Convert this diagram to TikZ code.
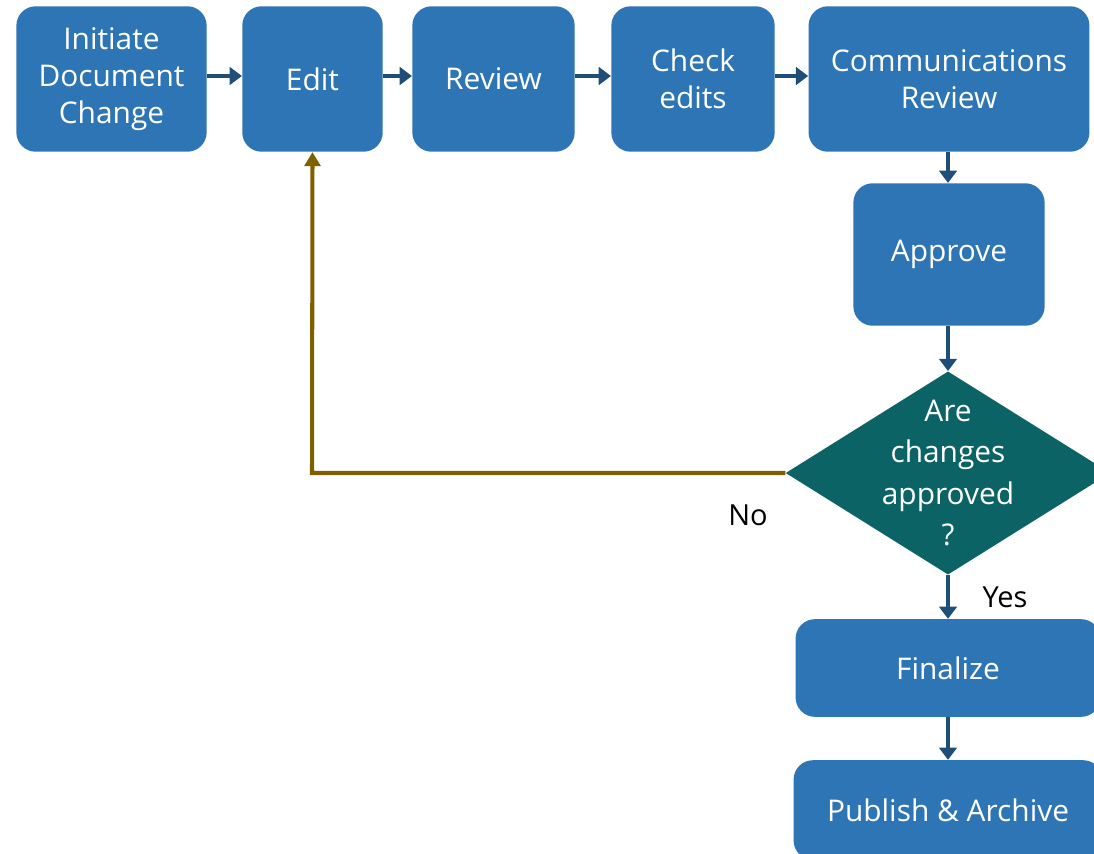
\documentclass[tikz,border=0pt]{standalone}
\usepackage{fontspec}
\setmainfont{Open Sans}
\usetikzlibrary{shapes.geometric,arrows.meta}
\definecolor{boxblue}{RGB}{46,117,182}
\definecolor{teal2}{RGB}{11,99,101}
\definecolor{arrowblue}{RGB}{31,78,121}
\definecolor{olive2}{RGB}{127,96,0}
\tikzset{
  stepbox/.style={rectangle, rounded corners=11pt, fill=boxblue, text=white, align=center,
    font=\fontsize{17}{21}\selectfont, inner sep=0pt, minimum height=146*0.567pt},
  flow/.style={draw=arrowblue, line width=2.8pt, -{Triangle[length=7pt,width=10pt]}},
  back/.style={draw=olive2, line width=2.3pt, -{Triangle[length=8pt,width=9pt]}},
  lbl/.style={font=\fontsize{16.5}{21}\selectfont, text=black, inner sep=0pt}
}
\begin{document}
\begin{tikzpicture}[x=0.02cm,y=-0.02cm]
\useasboundingbox (0,0) rectangle (1094,853);
\clip (0,0) rectangle (1094,853);
\node[stepbox, minimum width=191*0.567pt] (init) at (111.5,79) {Initiate\\Document\\Change};
\node[stepbox, minimum width=141*0.567pt] (edit) at (312.5,79) {Edit};
\node[stepbox, minimum width=163*0.567pt] (review) at (493.5,79) {Review};
\node[stepbox, minimum width=164*0.567pt] (check) at (693,79) {Check\\edits};
\node[stepbox, minimum width=282*0.567pt] (comm) at (949,79) {Communications\\Review};
\node[stepbox, minimum width=192*0.567pt, minimum height=143*0.567pt] (approve) at (949,254.5) {Approve};
\node[diamond, fill=teal2, minimum width=326*0.567pt, minimum height=204*0.567pt, inner sep=0pt] (dec) at (948,473) {};
\node[align=center, text=white, font=\fontsize{17}{23.5}\selectfont, inner sep=0pt] (dectext) at (948,473) {Are\\changes\\approved\\?};
\node[stepbox, minimum width=306*0.567pt, minimum height=98*0.567pt] (final) at (948,668) {Finalize};
\node[stepbox, minimum width=310*0.567pt, minimum height=100*0.567pt] (pub) at (948,810) {Publish \& Archive};
\node[lbl] (no) at (748,515) {No};
\node[lbl] (yes) at (1005,597) {Yes};
\draw[flow] (init.east |- 0,76) -- (edit.west |- 0,76);
\draw[flow] (edit.east |- 0,76) -- (review.west |- 0,76);
\draw[flow] (review.east |- 0,76) -- (check.west |- 0,76);
\draw[flow] (check.east |- 0,76) -- (comm.west |- 0,76);
\draw[flow] (comm.south -| 948,0) -- (approve.north -| 948,0);
\draw[flow] (approve.south -| 948,0) -- (dec.north);
\draw[flow] (dec.south) -- (final.north);
\draw[flow] (final.south) -- (pub.north);
\draw[back] (dec.west) -- (312,473) -- (edit.south);
\end{tikzpicture}
\end{document}
